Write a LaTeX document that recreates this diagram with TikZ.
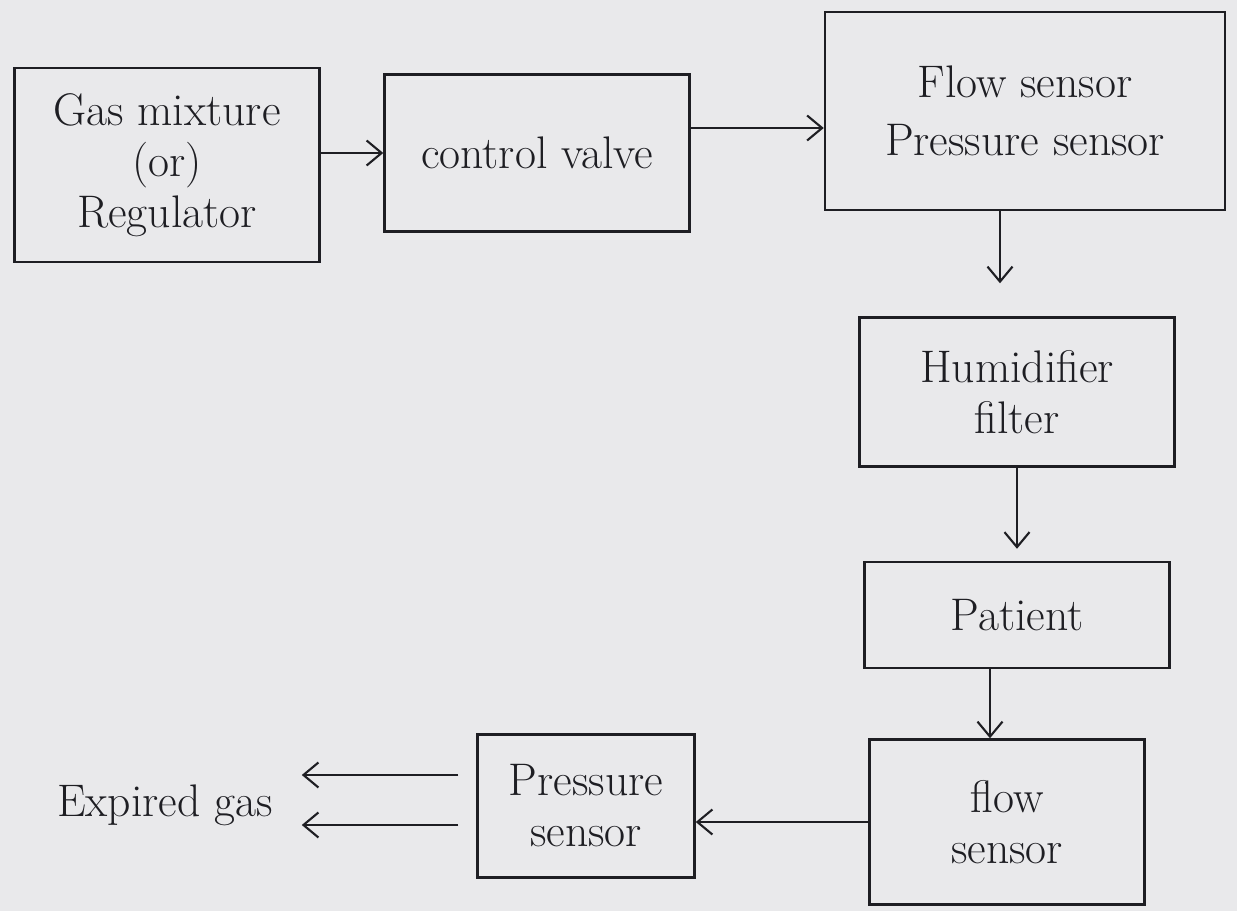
\documentclass[tikz,border=0pt]{standalone}
\usepackage{tikz}
\usetikzlibrary{arrows.meta,positioning}
\definecolor{paper}{RGB}{233,233,235}
\definecolor{ink}{RGB}{30,30,35}

\begin{document}
\begin{tikzpicture}
  [box/.style={draw=ink, line width=1.4pt, align=center, font=\fontsize{26}{29}\selectfont, text=ink, inner sep=2pt},
   arr/.style={draw=ink, line width=1.2pt, -{Straight Barb[length=3mm, width=5mm]}}]
  \fill[paper] (0,0) rectangle (24.74,-18.22);
  \useasboundingbox (0,0) rectangle (24.74,-18.22);

  % top row
  \node (gas) [box, minimum width=6.1cm, minimum height=3.88cm] at (3.34,-3.30)
    {Gas mixture\\(or)\\Regulator};
  \node (ctrl) [box, minimum width=6.1cm, minimum height=3.14cm] at (10.74,-3.06)
    {control valve};
  \node (flow) [box, minimum width=8cm, minimum height=3.96cm] at (20.5,-2.22)
    {Flow sensor\\[4pt]Pressure sensor};

  % right column
  \node (humid) [box, minimum width=6.3cm, minimum height=2.98cm] at (20.34,-7.84)
    {Humidifier\\filter};
  \node (patient) [box, minimum width=6.1cm, minimum height=2.12cm] at (20.34,-12.3)
    {Patient};
  \node (flowb) [box, minimum width=5.5cm, minimum height=3.3cm] at (20.14,-16.44)
    {flow\\sensor};

  % bottom row
  \node (press) [box, minimum width=4.34cm, minimum height=2.86cm] at (11.72,-16.12)
    {Pressure\\sensor};
  \node (expired) [font=\fontsize{26}{29}\selectfont, text=ink, inner sep=2pt] at (3.3,-16.1) {Expired gas};

  \draw[arr] (ctrl.west -| gas.east) -- (ctrl.west);
  \draw[arr] ([yshift=0.5cm]ctrl.east) -- ([yshift=0.5cm]ctrl.east -| flow.west);
  \draw[arr, shorten >=0.66cm] ([xshift=-0.5cm]flow.south) -- ([xshift=-0.5cm]flow.south |- humid.north);
  \draw[arr, shorten >=0.24cm] (humid.south) -- (patient.north);
  \draw[arr] ([xshift=-0.54cm]patient.south) -- ([xshift=-0.54cm]patient.south |- flowb.north);
  \draw[arr] (flowb.west) -- (flowb.west -| press.east);
  \draw[arr, shorten <=0.36cm, shorten >=0.5cm] ([yshift=0.62cm]press.west) -- ([yshift=0.62cm]press.west -| expired.east);
  \draw[arr, shorten <=0.36cm, shorten >=0.5cm] ([yshift=-0.38cm]press.west) -- ([yshift=-0.38cm]press.west -| expired.east);
\end{tikzpicture}
\end{document}
